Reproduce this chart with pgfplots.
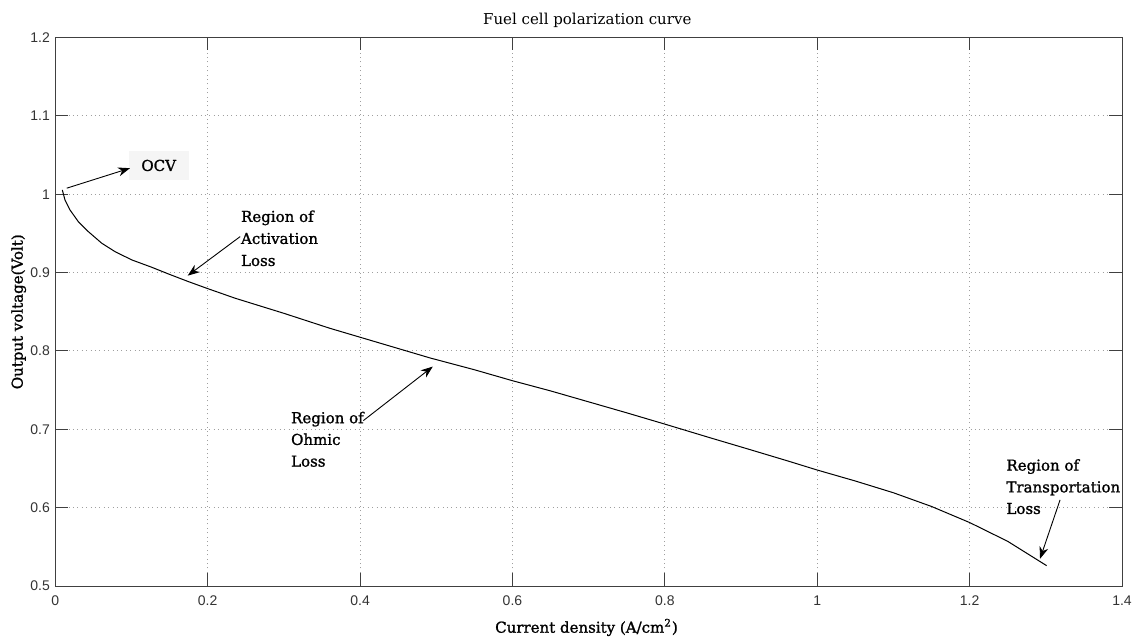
\documentclass[border=0pt]{standalone}
\usepackage{fontspec}
\setmainfont{DejaVu Serif}
\newfontfamily\annfont[FakeBold=1.3]{DejaVu Serif}
\newfontfamily\tickfont{Liberation Sans}
\usepackage{pgfplots}
\pgfplotsset{compat=1.18}
\usetikzlibrary{arrows.meta}
\pgfplotstableread{
x y
0.0092 1.0055
0.0127 0.9927
0.0193 0.9799
0.0302 0.9650
0.0433 0.9523
0.0609 0.9375
0.0784 0.9267
0.1003 0.9162
0.1265 0.9068
0.1483 0.8983
0.1746 0.8885
0.1987 0.8800
0.2359 0.8673
0.3000 0.8480
0.3600 0.8290
0.4260 0.8100
0.4920 0.7910
0.5500 0.7760
0.6000 0.7620
0.6500 0.7490
0.7000 0.7350
0.7500 0.7210
0.8000 0.7066
0.8600 0.6890
0.9120 0.6740
0.9600 0.6600
1.0000 0.6480
1.0500 0.6340
1.1000 0.6190
1.1500 0.6015
1.2000 0.5810
1.2500 0.5570
1.3010 0.5260
}\polcurve
\begin{document}
\begin{tikzpicture}[x=1pt,y=1pt]
\fontsize{7.5pt}{10.85pt}\selectfont
\path[use as bounding box] (0,0) rectangle (566.5pt,319pt);
\begin{axis}[
  at={(27.65pt,26pt)}, anchor=south west,
  width=533.35pt, height=274.25pt, scale only axis,
  xmin=0, xmax=1.4, ymin=0.5, ymax=1.2,
  xtick={0,0.2,0.4,0.6,0.8,1,1.2,1.4},
  ytick={0.5,0.6,0.7,0.8,0.9,1,1.1,1.2},
  tick align=inside, major tick length=6.5pt,
  xtick pos=both, ytick pos=both,
  axis line style={black!75, line width=0.5pt},
  tick style={black!75, line width=0.5pt},
  grid=major,
  major grid style={gray!75, line width=0.5pt, dash pattern=on 0.5pt off 1.7pt},
  /pgf/number format/assume math mode=true,
  ticklabel style={font=\tickfont\fontsize{7pt}{8pt}\selectfont, text=black!80},
  xticklabel style={inner sep=0pt, anchor=north, yshift=-4.5pt},
  yticklabel style={inner sep=0pt, anchor=east, xshift=-2.5pt},
  title={Fuel cell polarization curve},
  every axis title/.style={at={(axis description cs:0.4987,1.0228)}, anchor=base, inner sep=0pt},
  xlabel={Current density (A/cm\textsuperscript{2})},
  every axis x label/.style={at={(axis description cs:0.498,-0.0851)}, anchor=base, inner sep=0pt, font=\annfont},
  ylabel={Output voltage(Volt)},
  every axis y label/.style={at={(axis description cs:-0.0306,0.5)}, rotate=90, anchor=base, inner sep=0pt, font=\annfont},
  clip=false,
]
\addplot[black, line width=0.5pt, no markers] table[x=x,y=y] {\polcurve};

% OCV
\node[fill=black!4, minimum width=30pt, minimum height=14.5pt, inner sep=0pt, font=\annfont] at (axis cs:0.1357,1.0367) {OCV};
\draw[black, line width=0.45pt, -{Stealth[length=6pt,width=4.5pt]}] (axis cs:0.0150,1.0077) -- (axis cs:0.0980,1.0332);

% Activation
\begin{scope}[every node/.style={anchor=base west, inner sep=0pt, font=\annfont}]
\node at (axis cs:0.2433,0.9647) {Region of};
\node at (axis cs:0.2433,0.9366) {Activation};
\node at (axis cs:0.2433,0.9085) {Loss};
% Ohmic
\node at (axis cs:0.309,0.7078) {Region of};
\node at (axis cs:0.309,0.6801) {Ohmic};
\node at (axis cs:0.309,0.6524) {Loss};
% Transportation
\node at (axis cs:1.2478,0.6473) {Region of};
\node at (axis cs:1.2478,0.6195) {Transportation};
\node at (axis cs:1.2478,0.5920) {Loss};
\end{scope}
\draw[black, line width=0.45pt, -{Stealth[length=6pt,width=4.5pt]}] (axis cs:0.2426,0.9459) -- (axis cs:0.1738,0.8961);
\draw[black, line width=0.45pt, -{Stealth[length=6pt,width=4.5pt]}] (axis cs:0.4043,0.7111) -- (axis cs:0.4954,0.7800);
\draw[black, line width=0.45pt, -{Stealth[length=6pt,width=4.5pt]}] (axis cs:1.3187,0.6099) -- (axis cs:1.2924,0.5347);
\end{axis}
\end{tikzpicture}
\end{document}
